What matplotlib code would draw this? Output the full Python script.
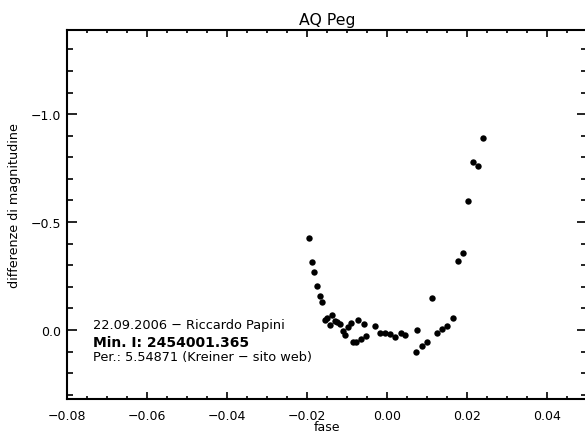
import matplotlib
matplotlib.use("Agg")
import matplotlib.pyplot as plt
from matplotlib.ticker import MultipleLocator, FixedLocator

plt.rcParams['font.family'] = ['DejaVu Sans']

fase = [-0.01942, -0.01883, -0.01817, -0.01750, -0.01683, -0.01625, -0.01558, -0.01508,
        -0.01425, -0.01367, -0.01300, -0.01242, -0.01175, -0.01108, -0.01042, -0.00975,
        -0.00908, -0.00850, -0.00775, -0.00717, -0.00650, -0.00583, -0.00517, -0.00292,
        -0.00175, -0.00050, 0.00075, 0.00208, 0.00342, 0.00458, 0.00717, 0.00742,
        0.00875, 0.01000, 0.01133, 0.01258, 0.01383, 0.01508, 0.01642, 0.01767,
        0.01892, 0.02025, 0.02142, 0.02283, 0.02400]
dmag = [-0.424, -0.316, -0.270, -0.205, -0.159, -0.128, -0.045, -0.054,
        -0.025, -0.069, -0.042, -0.036, -0.028, 0.003, 0.023, -0.015,
        -0.032, 0.054, 0.057, -0.046, 0.042, -0.028, 0.026, -0.019,
        0.014, 0.014, 0.019, 0.034, 0.014, 0.023, 0.100, -0.002,
        0.076, 0.057, -0.147, 0.014, -0.005, -0.020, -0.056, -0.321,
        -0.355, -0.599, -0.776, -0.758, -0.890]

title = "AQ Peg"
xlabel = "fase"
ylabel = "differenze di magnitudine"
note1 = "22.09.2006 \u2212 Riccardo Papini"
note2 = "Min. I: 2454001.365"
note3 = "Per.: 5.54871 (Kreiner \u2212 sito web)"
xticks = [-0.08, -0.06, -0.04, -0.02, 0.00, 0.02, 0.04]
yticks = [-1.0, -0.5, 0.0]

W, H = 585, 435
fig = plt.figure(figsize=(W / 100, H / 100), dpi=100)
ax = fig.add_axes([67 / W, 35 / H, 520 / W, 369 / H])

ax.plot(fase, dmag, 'o', color='black', markersize=4.6, markeredgewidth=0)

ax.set_xlim(-0.08, 0.05)
ax.set_ylim(0.32, -1.39)

ax.xaxis.set_major_locator(FixedLocator(xticks))
ax.xaxis.set_minor_locator(MultipleLocator(0.005))
ax.yaxis.set_major_locator(FixedLocator(yticks))
ax.yaxis.set_minor_locator(MultipleLocator(0.1))
ax.set_xticklabels([f"{v:.2f}".replace('-', '\u2212') for v in xticks])
ax.set_yticklabels([f"{v:.1f}".replace('-', '\u2212') for v in yticks])

for s in ax.spines.values():
    s.set_linewidth(1.5)

ax.tick_params(axis='both', which='both', direction='in', top=True, right=True,
               width=1.2, labelsize=9)
ax.tick_params(axis='x', which='major', length=5, pad=7.5)
ax.tick_params(axis='x', which='minor', length=2.5)
ax.tick_params(axis='y', which='major', length=7.5, pad=4)
ax.tick_params(axis='y', which='minor', length=4.2)

ax.set_title(title, fontsize=11.3, pad=4)
ax.set_xlabel(xlabel, fontsize=9, labelpad=-1.5)
ax.set_ylabel(ylabel, fontsize=9.2)
ax.yaxis.set_label_coords(-0.088, 0.527)

ax.text(-0.0736, -0.008, note1, fontsize=9.3, va='baseline', ha='left')
ax.text(-0.0736, 0.0755, note2, fontsize=10, fontweight='bold', va='baseline', ha='left')
ax.text(-0.0736, 0.1375, note3, fontsize=9.3, va='baseline', ha='left')

fig.savefig("out.png", dpi=100)
